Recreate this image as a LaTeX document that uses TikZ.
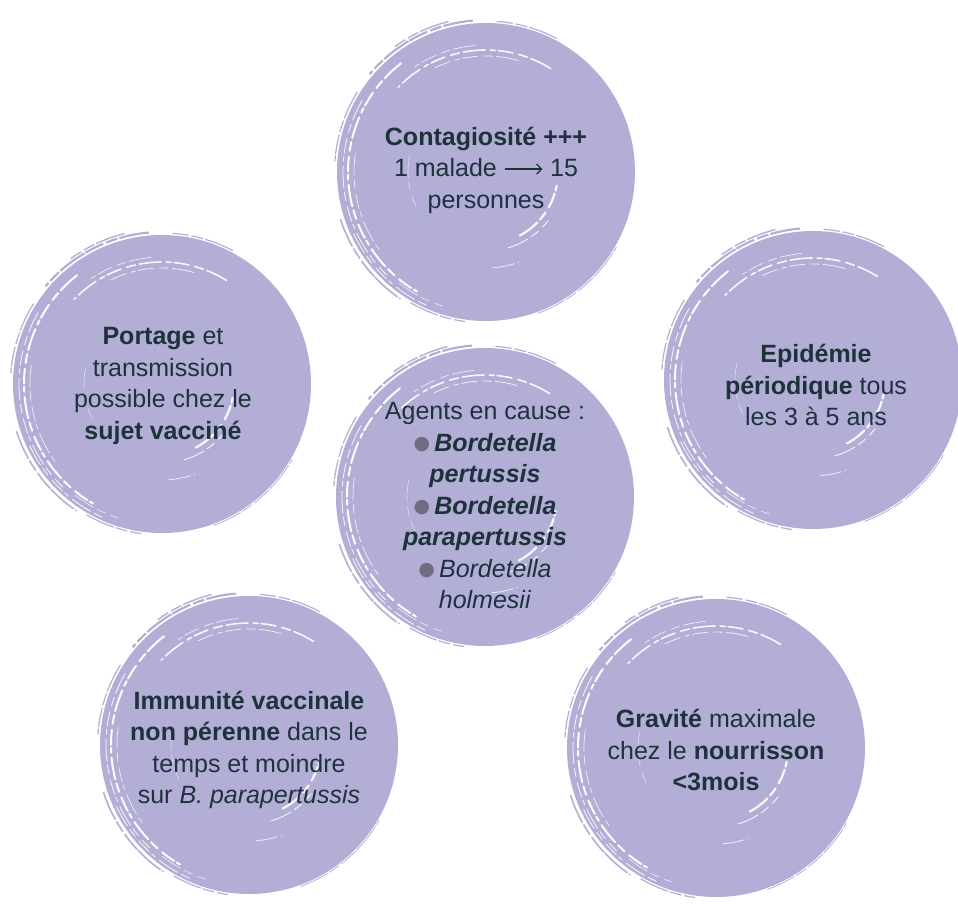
\documentclass[tikz,border=0pt]{standalone}
\usepackage{fontspec}
\usetikzlibrary{arrows.meta}
\setmainfont{Liberation Sans}
\newfontfamily\symfont{DejaVu Sans}
\definecolor{lav}{RGB}{178,174,214}
\definecolor{ink}{RGB}{30,50,60}
\definecolor{dotgray}{RGB}{110,110,128}
\newcommand{\bul}{{\color{dotgray}\raisebox{1.5pt}{\fontsize{19}{19}\selectfont\symfont ●}}\,}
\newcommand{\longarrow}{\tikz[baseline=-7.5pt]\draw[ink, line width=1.3pt,
  -{Straight Barb[length=5pt,width=10pt]}] (0pt,0pt) -- (38pt,0pt);}
\tikzset{
  % one painted brush disc, drawn around the pic origin
  brushdisc/.pic={
    \fill[lav] (0,0) circle (149pt);
    % ragged bristle fringe around the rim
    \foreach \r/\a/\b/\w in {152/95/140/2.2, 155/104/126/1.4, 151.5/148/176/1.2,
                             153/198/236/1.6, 151/240/262/1.2, 151/62/86/1.2,
                             150.5/290/330/0.8}
      \draw[lav, line width=\w pt, dash pattern=on 30pt off 2pt on 12pt off 3pt on 20pt off 1pt]
        (\a:\r pt) arc[start angle=\a, end angle=\b, radius=\r pt];
    % white gaps between the bristles of the swirl
    \foreach \r/\a/\b/\w/\o in {138/128/240/2.0/0.95, 143/150/226/0.8/0.9,
                                132/172/216/0.7/0.8, 146/205/246/0.8/0.9,
                                122/58/136/1.6/0.9, 116/74/116/0.8/0.8,
                                127/95/126/0.7/0.8, 72/-62/-8/2.2/0.9,
                                79/-74/-38/1.0/0.8, 78/168/206/0.6/0.6,
                                96/-86/-70/0.9/0.7, 141/232/252/0.6/0.8}
      \draw[white, opacity=\o, line width=\w pt, line cap=round,
            dash pattern=on 22pt off 4pt on 9pt off 6pt on 15pt off 3pt on 5pt off 5pt]
        (\a:\r pt) arc[start angle=\a, end angle=\b, radius=\r pt];
  },
  label/.style={text=ink, align=center, inner sep=0pt,
                font=\fontsize{25}{31.5}\selectfont}
}
\begin{document}
\begin{tikzpicture}[x=1pt, y=1pt]
  \useasboundingbox (0,0) rectangle (958,903);
  % discs
  \pic at (486,731) {brushdisc};
  \pic at (162,519) {brushdisc};
  \pic at (813,523) {brushdisc};
  \pic at (485,406) {brushdisc};
  \pic at (249,158) {brushdisc};
  \pic at (716,155) {brushdisc};
  % texts
  \node[label] (contagion) at (486,733)
    {\textbf{Contagiosité +++}\\1 malade \longarrow\ 15\\personnes};
  \node[label] (portage) at (163,517)
    {\textbf{Portage} et\\transmission\\possible chez le\\\textbf{sujet vacciné}};
  \node[label] (epidemie) at (816,518)
    {\textbf{Epidémie}\\\textbf{périodique} tous\\les 3 à 5 ans};
  \node[label] (agents) at (485,397)
    {Agents en cause :\\
     \bul\textbf{\textit{Bordetella}}\\\textbf{\textit{pertussis}}\\
     \bul\textbf{\textit{Bordetella}}\\\textbf{\textit{parapertussis}}\\
     \bul\textit{Bordetella}\\\textit{holmesii}};
  \node[label] (immunite) at (249,153)
    {\textbf{Immunité vaccinale}\\\textbf{non pérenne} dans le\\temps et moindre\\sur \textit{B. parapertussis}};
  \node[label] (gravite) at (716,153)
    {\textbf{Gravité} maximale\\chez le \textbf{nourrisson}\\\textbf{<3mois}};
\end{tikzpicture}
\end{document}
